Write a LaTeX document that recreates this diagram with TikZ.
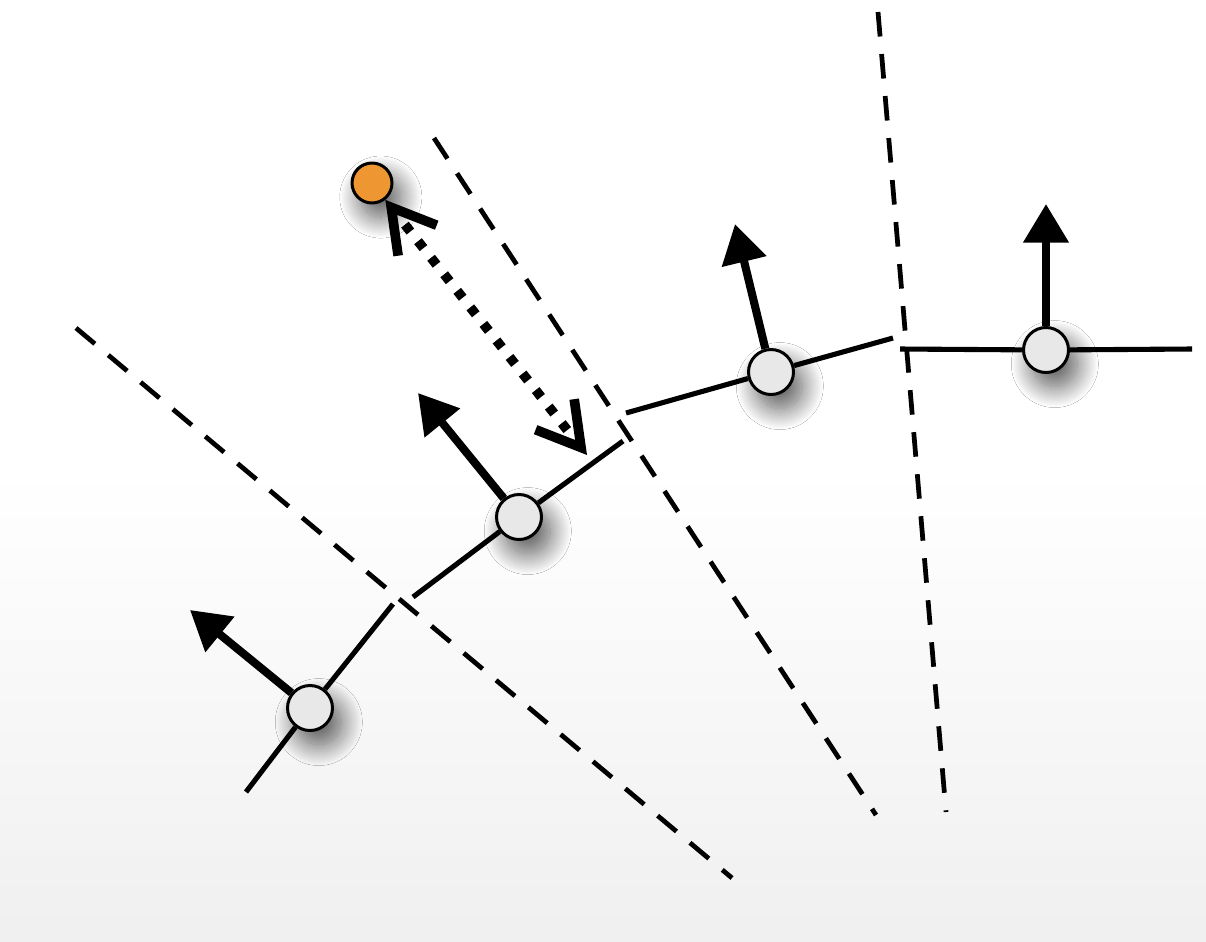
\documentclass[tikz,border=0pt]{standalone}
\usetikzlibrary{arrows.meta,shadows.blur}
\definecolor{ptgray}{RGB}{232,232,232}
\definecolor{ptorange}{RGB}{238,150,50}
\tikzset{
  vtx/.style={circle, draw, line width=1.7pt, fill=ptgray, minimum size=0.9cm, inner sep=0pt,
    blur shadow={shadow xshift=5pt, shadow yshift=-8pt, shadow blur radius=12pt,
      shadow blur steps=25, shadow opacity=65}},
  query/.style={vtx, fill=ptorange, minimum size=0.8cm},
  seg/.style={line width=2.9pt},
  normal/.style={line width=4.6pt, -{Triangle[length=22pt,width=25pt]}},
  bisect/.style={line width=2.7pt, dash pattern=on 14pt off 10pt},
  distline/.style={line width=5.5pt, dash pattern=on 5pt off 7pt, shorten <=6pt, shorten >=6pt},
  disttips/.style={solid, line width=5.5pt, tips,
    {Straight Barb[length=24pt,width=28pt]}-{Straight Barb[length=24pt,width=28pt]}}
}
\begin{document}
\begin{tikzpicture}[x=0.02cm, y=-0.02cm]
  % background
  \fill[white] (0,0) rectangle (1206,470);
  \shade[top color=white, bottom color=black!6] (0,470) rectangle (1206,941);
  \useasboundingbox (0,0) rectangle (1206,941);
  % bisectors
  \coordinate (b1a) at (76,328);   \coordinate (b1b) at (732,878);
  \coordinate (b2a) at (434,138);  \coordinate (b2b) at (876,815);
  \coordinate (b3a) at (878,12);   \coordinate (b3b) at (946,812);
  \draw[bisect] (b1a) -- (b1b);
  \draw[bisect] (b2a) -- (b2b);
  \draw[bisect] (b3a) -- (b3b);
  % vertices
  \node[vtx] (v1) at (310,708) {};
  \node[vtx] (v2) at (519,517) {};
  \node[vtx] (v3) at (771,372) {};
  \node[vtx] (v4) at (1046,350) {};
  \node[query] (q) at (372,183) {};
  % segment ends
  \coordinate (s1a) at (246,792);  \coordinate (s1b) at (393,604);
  \coordinate (s2a) at (413,597);  \coordinate (s2b) at (623,441);
  \coordinate (s3a) at (626,413);  \coordinate (s3b) at (893,338);
  \coordinate (s4a) at (900,349);  \coordinate (s4b) at (1192,349);
  \draw[seg] (s1a) -- (v1) -- (s1b);
  \draw[seg] (s2a) -- (v2) -- (s2b);
  \draw[seg] (s3a) -- (v3) -- (s3b);
  \draw[seg] (s4a) -- (v4) -- (s4b);
  % normals
  \coordinate (n1) at (190,610);
  \coordinate (n2) at (418,393);
  \coordinate (n3) at (735,224);
  \coordinate (n4) at (1046,204);
  \draw[normal] (v1) -- (n1);
  \draw[normal] (v2) -- (n2);
  \draw[normal] (v3) -- (n3);
  \draw[normal] (v4) -- (n4);
  % distance to query
  \coordinate (foot) at (587,455);
  \draw[distline] (q) -- (foot);
  \path[disttips] (q) -- (foot);
\end{tikzpicture}
\end{document}
